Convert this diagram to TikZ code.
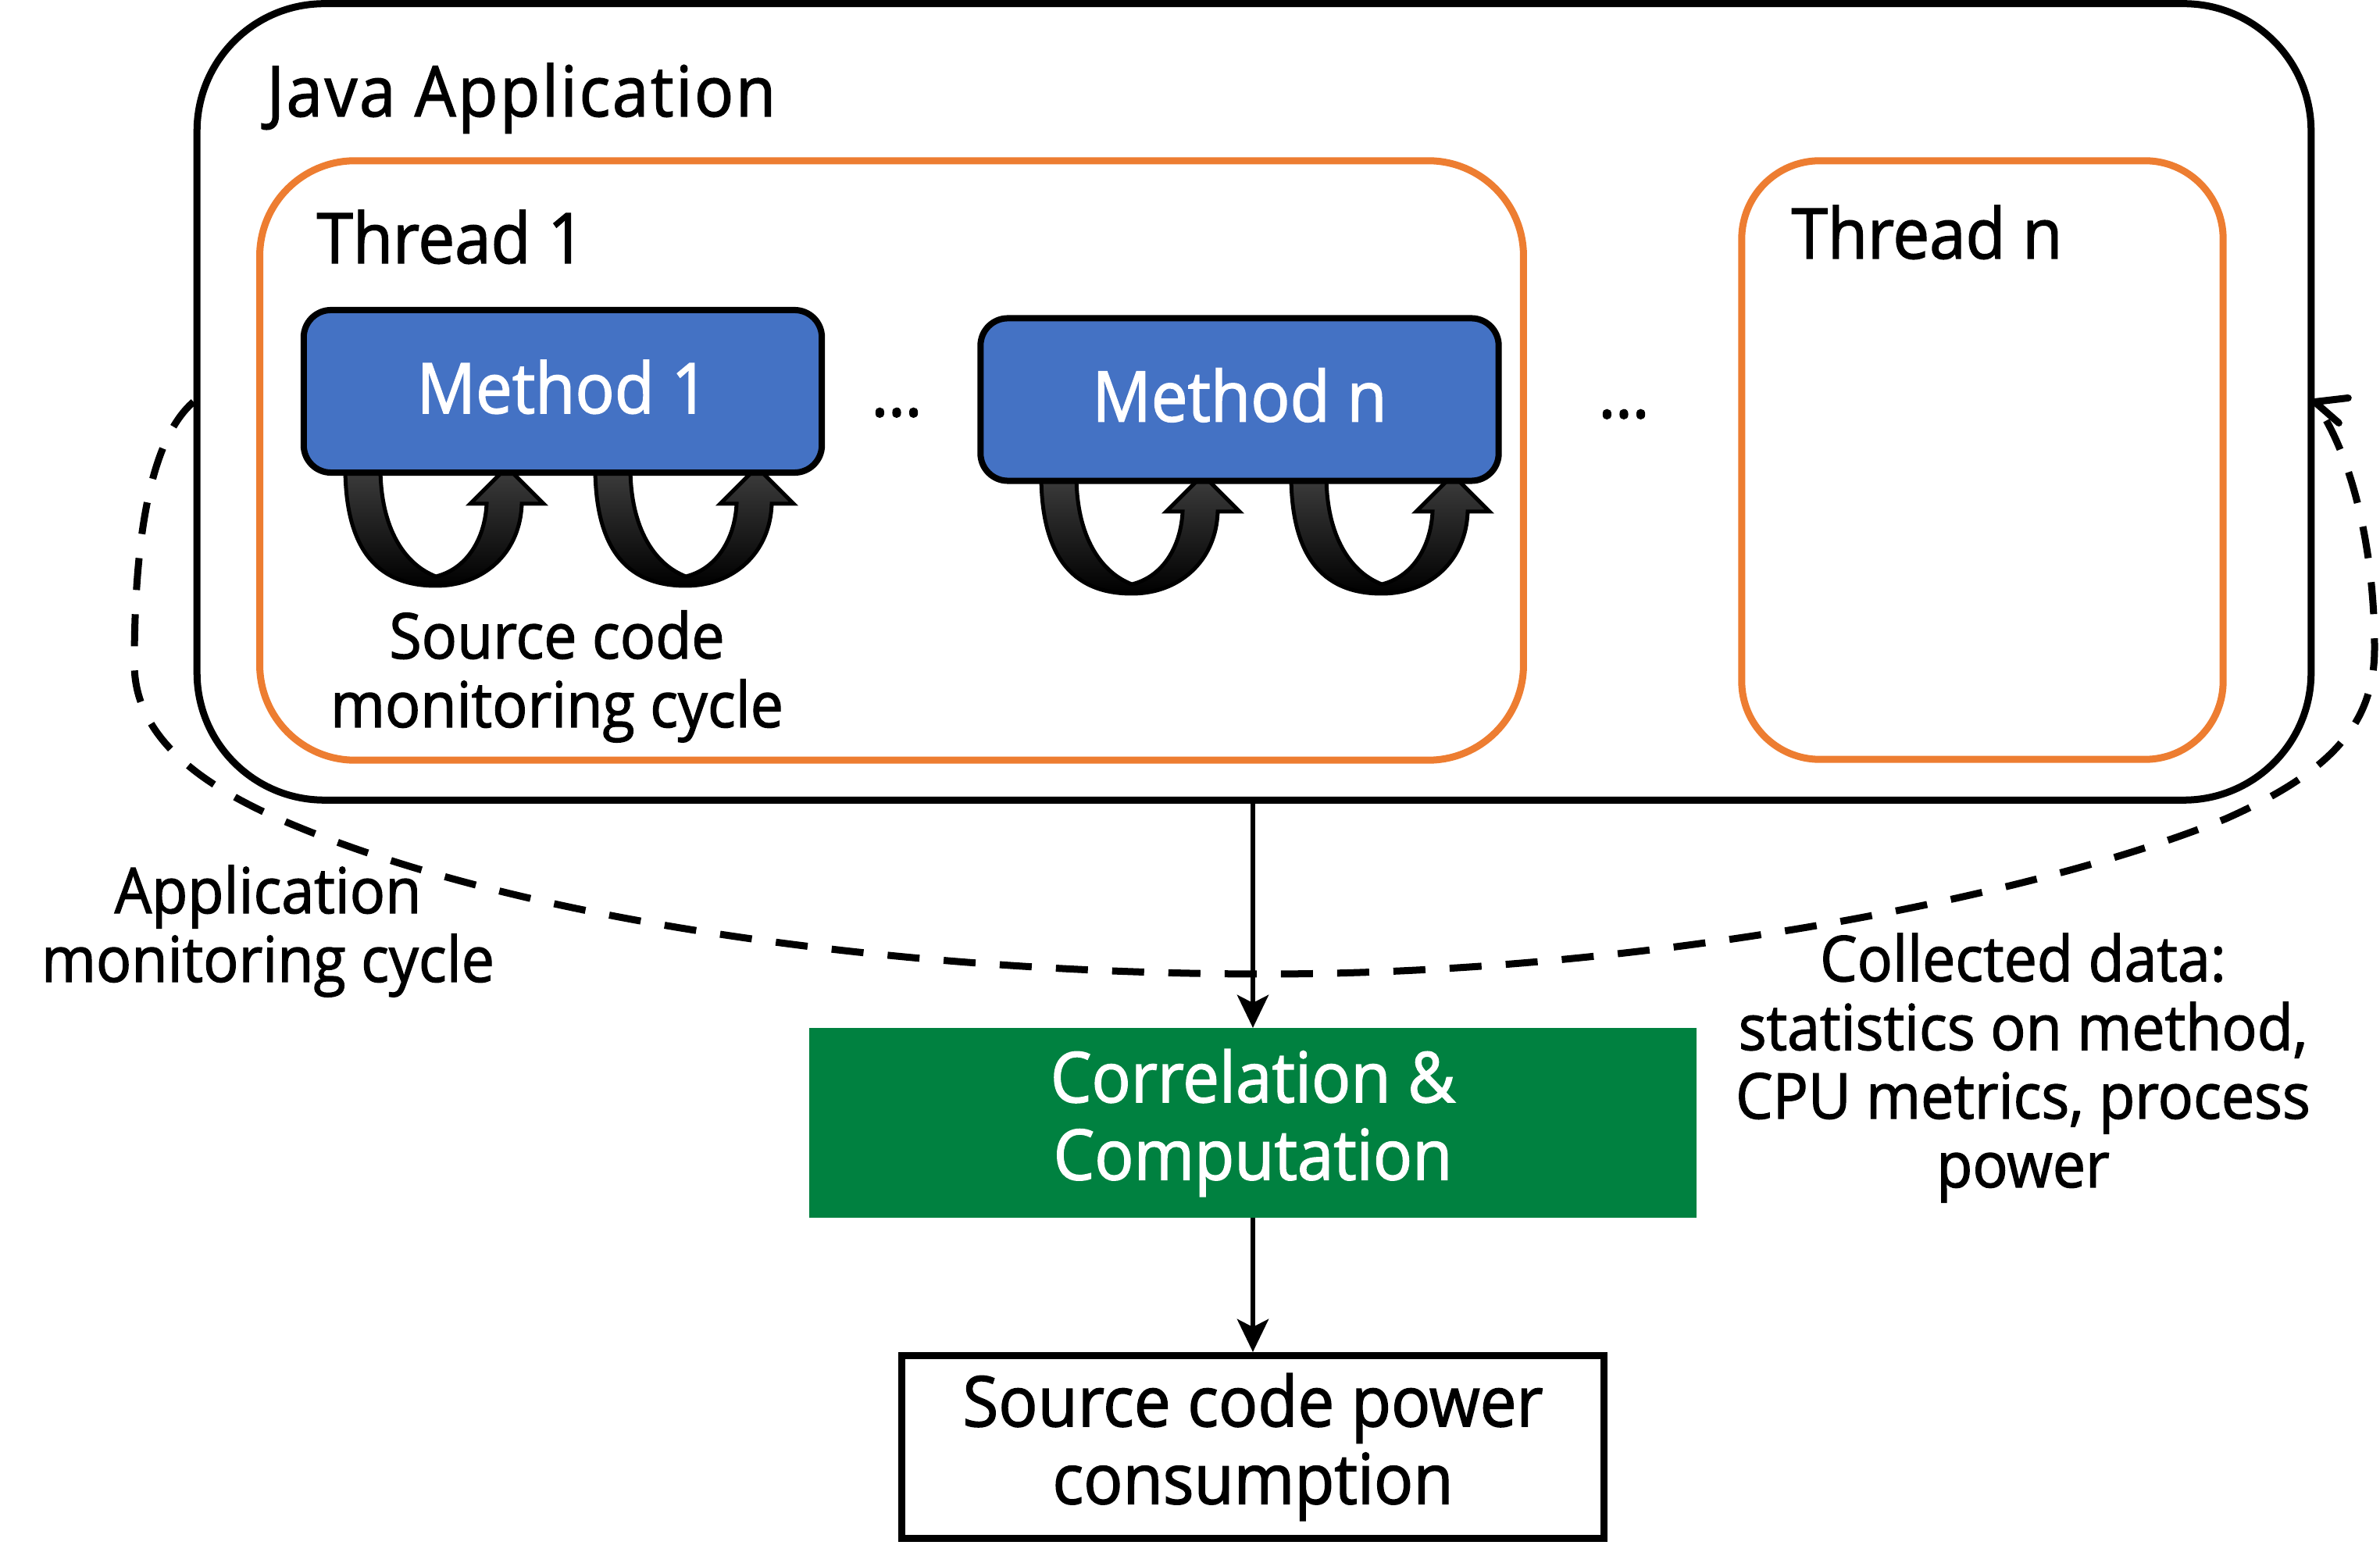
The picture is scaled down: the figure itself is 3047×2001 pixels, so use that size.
\documentclass[tikz,border=0pt]{standalone}
\usepackage{fontspec}
\setmainfont{Open Sans}[FakeStretch=0.93, FakeBold=1.6]
\usetikzlibrary{arrows.meta,calc}
\definecolor{mblue}{RGB}{68,114,196}
\definecolor{torange}{RGB}{237,125,49}
\definecolor{cgreen}{RGB}{0,129,64}
\tikzset{
  bigtext/.style={font=\fontsize{25.5}{28.2}\selectfont},
  smalltext/.style={font=\fontsize{23}{25}\selectfont},
  appbox/.style={draw=black, line width=0.09cm, rounded corners=1.63cm,
    minimum width=27.05cm, minimum height=10.19cm, inner sep=0},
  threadbox/.style={draw=torange, line width=0.09cm, inner sep=0},
  methodbox/.style={draw=black, fill=mblue, line width=0.08cm, rounded corners=0.35cm,
    minimum width=6.63cm, minimum height=2.08cm, inner sep=0, text=white,
    bigtext, text depth=0.12cm},
  greenbox/.style={fill=cgreen, minimum width=11.36cm, minimum height=2.43cm,
    inner sep=0, outer sep=0, text=white, bigtext, align=center},
  resultbox/.style={draw=black, line width=0.09cm, minimum width=8.99cm,
    minimum height=2.34cm, inner sep=0, bigtext, align=center},
  lbl/.style={inner sep=0, bigtext},
  smalllbl/.style={inner sep=0, smalltext, align=center},
  conn/.style={draw=black, line width=0.065cm,
    -{Stealth[length=0.42cm, width=0.40cm, inset=0.1cm]}},
  cycleline/.style={draw=black, line width=0.09cm, dash pattern=on 0.41cm off 0.31cm},
  loopfill/.style={top color=black!76, bottom color=black, draw=black,
    line width=0.05cm, line join=miter},
  cyclearrow/.pic={
    \path[loopfill] (-207,0) .. controls (-207,100) and (-170,152) .. (-91,152)
      .. controls (-30,152) and (17,110) .. (19,47)
      -- (47,47) -- (0,0) -- (-47,47) -- (-26,47)
      .. controls (-28,90) and (-50,130) .. (-91,140)
      .. controls (-130,125) and (-162,80) .. (-162,0) -- cycle;
  }
}
\begin{document}
\begin{tikzpicture}[x=0.01cm, y=-0.01cm]
\useasboundingbox (0,0) rectangle (3047,2001);

% containers
\node[appbox] (app) at (1605.5,514.5) {};
\node[threadbox, rounded corners=1.22cm, minimum width=16.17cm, minimum height=7.67cm]
  (th1) at (1141.5,589.5) {};
\node[threadbox, rounded corners=1.0cm, minimum width=6.16cm, minimum height=7.66cm]
  (thn) at (2538,589) {};

% source code monitoring loops
\pic (loopA) at (649,598) {cyclearrow};
\pic (loopB) at (969,598) {cyclearrow};
\pic (loopC) at (1540,608) {cyclearrow};
\pic (loopD) at (1860,608) {cyclearrow};

% methods
\node[methodbox] (m1) at (720.5,501) {Method 1};
\node[methodbox] (mn) at (1587,511.5) {Method n};

% labels
\node[lbl, anchor=base west] (tJava) at (341,149) {\addfontfeature{LetterSpace=3}Java Application};
\node[lbl, anchor=base west] (tT1) at (405,337) {Thread 1};
\node[lbl, anchor=base west] (tTn) at (2293,331) {Thread n};
\node[lbl, anchor=base] (dots1) at (1148,533) {…};
\node[lbl, anchor=base] (dots2) at (2079,535) {…};
\node[smalllbl, anchor=base] (srcLbl) at (713,931) {Source code\\monitoring cycle};
\node[smalllbl, anchor=base] (appLbl) at (343,1257) {Application\\monitoring cycle};
\node[smalllbl, anchor=base] (dataLbl) at (2590,1520)
  {Collected data:\\statistics on method,\\CPU metrics, process\\power};

% processing
\node[greenbox] (green) at (1604,1437.5) {Correlation \&\\Computation};
\node[resultbox] (result) at (1604,1852.5) {Source code power\\consumption};

% application monitoring cycle (dashed)
\draw[cycleline] (app.west) .. controls (195,560) and (172,680) .. (172,850)
  .. controls (172,940) and (250,1005) .. (380,1058)
  .. controls (700,1190) and (1200,1247) .. (1620,1247)
  .. controls (2100,1247) and (2600,1150) .. (2850,1048)
  .. controls (2980,990) and (3040,930) .. (3040,830)
  .. controls (3040,700) and (3010,580) .. (app.east);
\draw[line width=0.09cm, line cap=round, line join=round]
  ([shift={(43,-5)}]app.east) -- (app.east) -- ([shift={(31,27)}]app.east);

% data flow
\draw[conn] (app.south -| green.north) -- (green.north);
\draw[conn] (green.south) -- (result.north);
\end{tikzpicture}
\end{document}
